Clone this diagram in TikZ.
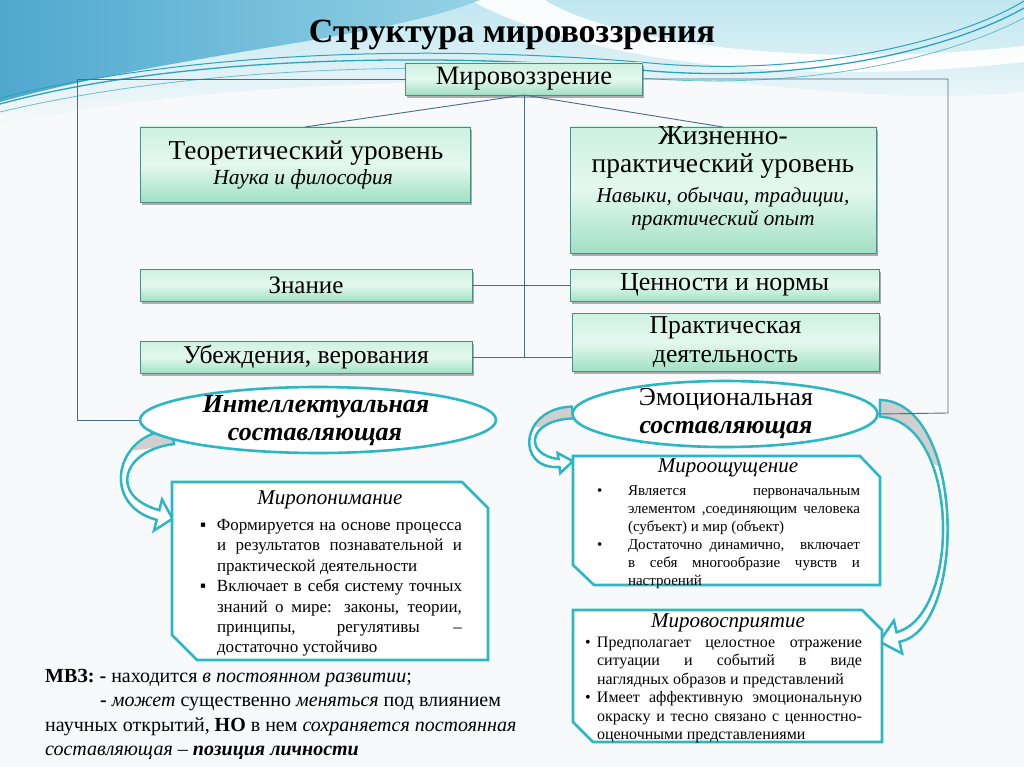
\documentclass[tikz,border=0pt]{standalone}
\usepackage{fontspec}
\setmainfont{Liberation Serif}
\usetikzlibrary{shapes.geometric,shadows,calc}
\definecolor{bgc}{HTML}{F7F9FA}
\definecolor{tealc}{HTML}{2DB6C3}
\definecolor{framec}{HTML}{4A6C8C}
\definecolor{gborder}{HTML}{4E8C82}
\definecolor{gtop}{HTML}{CDF1E1}
\definecolor{gmid}{HTML}{E4F8EF}
\definecolor{gbot}{HTML}{A0E0C4}
\definecolor{grayf}{HTML}{CFCFCF}
\definecolor{waveblue}{HTML}{4FA8CF}
\definecolor{wavemid}{HTML}{95D2E5}
\definecolor{wavelight}{HTML}{BFE7F0}
\definecolor{waveline}{HTML}{2AA3BB}
\newcommand\fsz[2]{\fontsize{#1}{#2}\selectfont}
\newcommand\bulitem[3]{\par\noindent\hangindent=#1\hangafter=1\makebox[#1][l]{#2}#3}
\begin{document}
\begin{tikzpicture}[x=1pt,y=-1pt,
  gbox/.style={draw=gborder,line width=0.8pt,top color=gtop,bottom color=gbot,middle color=gmid,inner sep=0pt,outer sep=0pt,
    drop shadow={shadow xshift=1.5pt,shadow yshift=-3pt,fill=black,opacity=0.3}},
  conn/.style={draw=framec,line width=0.9pt},
  ell/.style={ellipse,draw=tealc,line width=2.6pt,fill=white,inner sep=0pt,align=center},
  tealbox/.style={draw=tealc,line width=2.6pt,fill=white,line join=miter},
  barrow/.style={draw=tealc,line width=2.2pt,fill=white,line join=miter},
  lbl/.style={inner sep=0pt,outer sep=0pt},
  btxt/.style={inner sep=0pt,outer sep=0pt,align=justify,anchor=north west},
]
\useasboundingbox (0,0) rectangle (1024,767);
% background
\fill[bgc] (0,0) rectangle (1024,767);
\shade[top color=wavelight,bottom color=bgc] (0,0) -- (1024,0) -- (1024,92) .. controls (880,108) and (760,76) .. (600,78) .. controls (420,82) and (200,82) .. (0,125) -- cycle;
\fill[white,opacity=0.9] (470,0) .. controls (560,50) and (760,92) .. (1024,62) -- (1024,46) .. controls (780,72) and (600,36) .. (545,0) -- cycle;
\shade[left color=waveblue,right color=wavemid] (0,0) -- (480,0) .. controls (380,40) and (180,52) .. (0,102) -- cycle;
\draw[waveline,line width=1.3pt] (0,104) .. controls (200,50) and (480,55) .. (640,70) .. controls (800,85) and (950,50) .. (1024,8);
\draw[waveline,line width=1pt] (0,98) .. controls (220,44) and (480,48) .. (650,63) .. controls (810,78) and (960,40) .. (1024,1);
\draw[waveline!70,line width=0.8pt] (0,112) .. controls (210,62) and (470,62) .. (630,77) .. controls (790,92) and (940,62) .. (1024,18);

% title
\node[lbl,font=\bfseries\fsz{34}{37}] (title) at (512,35) {Структура мировоззрения};

% boxes
\node[gbox,minimum width=237pt,minimum height=32pt,font=\fsz{26.5}{29}] (mv) at (524,79) {Мировоззрение};
\node[gbox,minimum width=330pt,minimum height=75pt] (teo) at (305,164.5) {};
\node[lbl,font=\fsz{27.3}{30}] (teo1) at (306,153) {Теоретический уровень};
\node[lbl,font=\itshape\fsz{21.5}{23}] (teo2) at (303,179) {Наука и философия};
\node[gbox,minimum width=306pt,minimum height=126pt] (jp) at (723,190) {};
\node[lbl,font=\fsz{27.5}{30}] (jp1) at (723,136) {Жизненно-};
\node[lbl,font=\fsz{27.5}{30}] (jp2) at (723,166) {практический уровень};
\node[lbl,font=\itshape\fsz{21.2}{23}] (jp3) at (723,197) {Навыки, обычаи, традиции,};
\node[lbl,font=\itshape\fsz{21.2}{23}] (jp4) at (723,220) {практический опыт};
\node[gbox,minimum width=332pt,minimum height=32pt,font=\fsz{25}{28}] (zn) at (306,285) {Знание};
\node[gbox,minimum width=309pt,minimum height=32pt,font=\fsz{26}{28}] (cn) at (724.5,285) {Ценности и нормы};
\node[gbox,minimum width=332pt,minimum height=32pt,font=\fsz{25.6}{28}] (ub) at (306,357) {Убеждения, верования};
\node[gbox,minimum width=307pt,minimum height=58pt,font=\fsz{25.7}{29},align=center] (pd) at (725.5,342) {Практическая\\деятельность};

% connectors
\coordinate (fl1) at (77,79);
\coordinate (fl2) at (77,420);
\coordinate (fr1) at (948,79);
\coordinate (fr2) at (948,413);
\draw[conn] (mv.south) -- (teo.north);
\draw[conn] (mv.south) -- (jp.north);
\draw[conn] (mv.south) -- (mv.south |- ub.east);
\draw[conn] (zn.east) -- (cn.west);
\draw[conn] (ub.east) -- (ub.east -| pd.west);

% curved block arrows (drawn before ellipses)
% A: intellectual -> miroponimanie
\path[barrow] (171,430) .. controls (115,433) and (100,505) .. (156.75,519.85) -- (154,530.5) -- (172.5,518.75) -- (162,499.5) -- (159.25,510.15) .. controls (108,496) and (122,450) .. (174,444) -- cycle;
\begin{scope}
\clip (171,430) .. controls (115,433) and (100,505) .. (156.75,519.85) -- (159.25,510.15) .. controls (108,496) and (122,450) .. (174,444) -- cycle;
\fill[grayf] (185,420) -- (135,420) -- (129,451) -- (185,444) -- cycle;
\end{scope}
\draw[tealc,line width=2.2pt,line join=miter] (171,430) .. controls (115,433) and (100,505) .. (156.75,519.85) -- (154,530.5) -- (172.5,518.75) -- (162,499.5) -- (159.25,510.15) .. controls (108,496) and (122,450) .. (174,444) -- cycle;
% B: emotional -> mirooshushchenie
\path[barrow] (571.7,406.7) .. controls (520,408) and (515,470) .. (559.5,467) -- (560.3,473) -- (572.9,461.2) -- (557.7,453.1) -- (558.5,459) .. controls (524,455) and (526,420) .. (573.3,418.3) -- cycle;
\begin{scope}
\clip (571.7,406.7) .. controls (520,408) and (515,470) .. (559.5,467) -- (558.5,459) .. controls (524,455) and (526,420) .. (573.3,418.3) -- cycle;
\fill[grayf] (585,398) -- (540,398) -- (532,428) -- (585,420) -- cycle;
\end{scope}
\draw[tealc,line width=2.2pt,line join=miter] (571.7,406.7) .. controls (520,408) and (515,470) .. (559.5,467) -- (560.3,473) -- (572.9,461.2) -- (557.7,453.1) -- (558.5,459) .. controls (524,455) and (526,420) .. (573.3,418.3) -- cycle;
% C: emotional -> mirovospriyatie
\path[barrow] (880,400) .. controls (965,402) and (968,628) .. (899.5,641.8) -- (902.1,653.5) -- (879.6,641.6) -- (893.9,620.5) -- (896.5,632.2) .. controls (962,615) and (960,420) .. (880,416.7) -- cycle;
\begin{scope}
\clip (880,400) .. controls (965,402) and (968,628) .. (899.5,641.8) -- (896.5,632.2) .. controls (962,615) and (960,420) .. (880,416.7) -- cycle;
\fill[grayf] (868,395) -- (955,395) -- (946,472) -- (868,418) -- cycle;
\end{scope}
\draw[tealc,line width=2.2pt,line join=miter] (880,400) .. controls (965,402) and (968,628) .. (899.5,641.8) -- (902.1,653.5) -- (879.6,641.6) -- (893.9,620.5) -- (896.5,632.2) .. controls (962,615) and (960,420) .. (880,416.7) -- cycle;

% ellipses
\node[ell,minimum width=356pt,minimum height=66pt] (ie) at (318,420) {};
\node[lbl,font=\bfseries\itshape\fsz{26}{28}] (ie1) at (316,407) {Интеллектуальная};
\node[lbl,font=\bfseries\itshape\fsz{26}{28}] (ie2) at (315,437) {составляющая};
\node[ell,minimum width=305pt,minimum height=66pt] (ee) at (725,414) {};
\node[lbl,font=\fsz{25.8}{28}] (ee1) at (726,399) {Эмоциональная};
\node[lbl,font=\bfseries\itshape\fsz{25.8}{28}] (ee2) at (726,430) {составляющая};

% frame lines
\draw[conn] (mv.west) -- (fl1) -- (fl2) -- (ie.west);
\draw[conn] (mv.east) -- (fr1) -- (fr2) -- (ee.east);

% chamfered boxes
\node[lbl,minimum width=316pt,minimum height=178pt] (mp) at (330,571) {};
\draw[tealbox] (mp.north west) -- ($(mp.north east)+(-26,0)$) -- ($(mp.north east)+(0,26)$) -- (mp.south east) -- ($(mp.south west)+(25,0)$) -- ($(mp.south west)+(0,-25)$) -- cycle;
\node[lbl,font=\itshape\fsz{21}{23}] (mpt) at (330,500) {Миропонимание};
\node[btxt,text width=262pt,font=\fsz{17}{20.4}] (mptx) at (200,510) {\hyphenpenalty=10000\exhyphenpenalty=10000
\bulitem{17pt}{▪}{Формируется на основе процесса\linebreak и результатов познавательной и\linebreak практической деятельности}
\bulitem{17pt}{▪}{Включает в себя систему точных\linebreak знаний о мире: законы, теории,\linebreak принципы, регулятивы –\linebreak достаточно устойчиво}\par};

\node[lbl,minimum width=307pt,minimum height=129pt] (mo) at (726.5,520.5) {};
\draw[tealbox] (mo.north west) -- ($(mo.north east)+(-20,0)$) -- ($(mo.north east)+(0,21)$) -- (mo.south east) -- ($(mo.south west)+(21,0)$) -- ($(mo.south west)+(0,-20)$) -- cycle;
\node[lbl,font=\itshape\fsz{21}{23}] (mot) at (728,468) {Мироощущение};
\node[btxt,text width=263pt,font=\fsz{15}{17.9}] (motx) at (597,478) {\hyphenpenalty=10000\exhyphenpenalty=10000
\bulitem{31pt}{•}{Является первоначальным\linebreak элементом ,соединяющим человека\linebreak (субъект) и мир (объект)}
\bulitem{31pt}{•}{Достаточно динамично, \ включает\linebreak в себя многообразие чувств и\linebreak настроений}\par};

\node[lbl,minimum width=309pt,minimum height=132pt] (ms) at (727.5,676) {};
\draw[tealbox] (ms.north west) -- ($(ms.north east)+(-20,0)$) -- ($(ms.north east)+(0,20)$) -- (ms.south east) -- ($(ms.south west)+(20,0)$) -- ($(ms.south west)+(0,-20)$) -- cycle;
\node[lbl,font=\itshape\fsz{21}{23}] (mst) at (728,623) {Мировосприятие};
\node[btxt,text width=277pt,font=\fsz{16}{18.4}] (mstx) at (585,629) {\hyphenpenalty=10000\exhyphenpenalty=10000
\bulitem{12pt}{•}{Предполагает целостное отражение\linebreak ситуации и событий в виде\linebreak наглядных образов и представлений}
\bulitem{12pt}{•}{Имеет аффективную эмоциональную\linebreak окраску и тесно связано с ценностно-\linebreak оценочными представлениями}\par};

% bottom note
\node[inner sep=0pt,anchor=north west,align=left,font=\fsz{20}{24.5}] (note) at (45,669) {\textbf{МВЗ: -} находится \textit{в постоянном развитии};\\
\hspace*{55pt}\textbf{-} \textit{может} существенно \textit{меняться} под влиянием\\
научных открытий, \textbf{НО} в нем \textit{сохраняется постоянная}\\
\textit{составляющая} – \textbf{\textit{позиция личности}}};
\end{tikzpicture}
\end{document}
